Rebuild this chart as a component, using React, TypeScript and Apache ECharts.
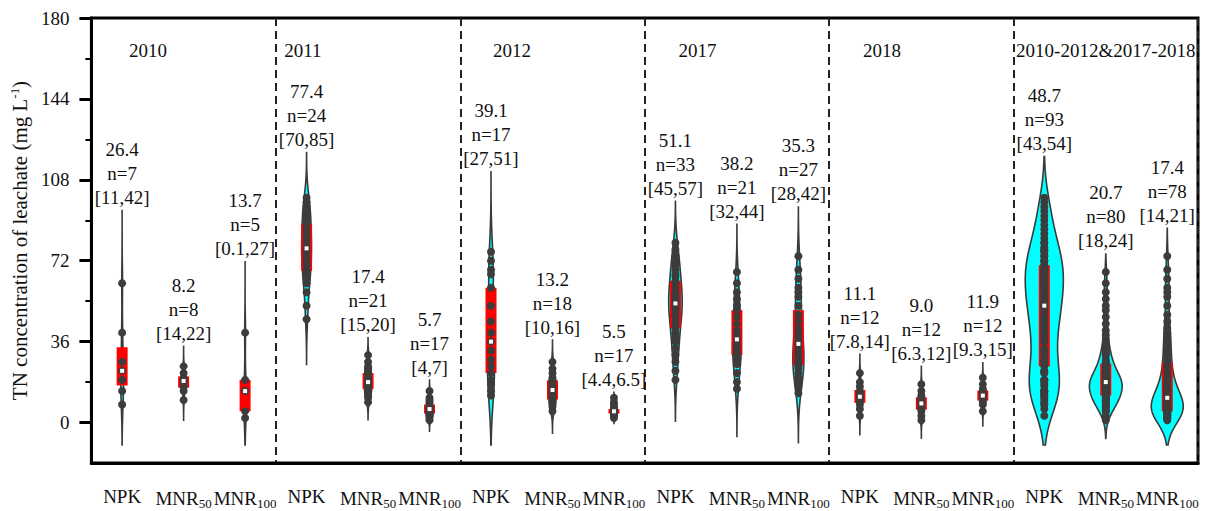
import React, { useEffect, useRef } from 'react';
import * as echarts from 'echarts';

// ---------- data ----------
const groups = ['2010', '2011', '2012', '2017', '2018', '2010-2012&2017-2018'];
const treatments = ['NPK', 'MNR50', 'MNR100'];

const npk2010 = [62, 40, 27, 23, 19, 14, 8];
const mnr50_2010 = [25, 22, 20, 19, 18, 16, 14, 10];
const mnr100_2010 = [40, 19, 14, 5, 2];

const npk2011 = [100, 98, 96, 94, 92, 90, 88, 86, 84, 82, 80, 78, 77, 76, 74, 72, 70, 68, 66, 64, 62, 58, 52, 46];
const mnr50_2011 = [30, 27, 25, 24, 23, 22, 21, 20, 19, 19, 18, 18, 17, 16, 16, 15, 14, 13, 12, 11, 9];
const mnr100_2011 = [14, 11, 10, 9, 8, 7, 7, 6, 6, 5, 5, 4, 4, 3, 3, 2, 1];

const npk2012 = [76, 72, 68, 66, 60, 52, 45, 40, 36, 32, 28, 25, 22, 19, 17, 14, 12];
const mnr50_2012 = [27, 24, 22, 20, 19, 18, 17, 16, 15, 14, 13, 12, 11, 10, 9, 8, 7, 5];
const mnr100_2012 = [11, 9, 8, 7, 6, 6, 6, 5, 5, 5, 5, 4, 4, 4, 3, 3, 2];

const npk2017 = [80, 77, 74, 72, 70, 68, 66, 65, 63, 62, 60, 58, 57, 56, 55, 54, 53, 52, 51, 50, 48, 47, 45, 43, 42, 40, 38, 36, 33, 30, 27, 23, 19];
const mnr50_2017 = [67, 62, 58, 55, 52, 50, 47, 44, 41, 39, 37, 35, 33, 32, 31, 30, 28, 26, 22, 18, 15];
const mnr100_2017 = [74, 68, 64, 60, 58, 56, 52, 48, 45, 42, 40, 38, 36, 35, 33, 31, 30, 28, 27, 26, 25, 24, 22, 20, 18, 16, 13];

const npk2018 = [22, 18, 16, 14, 13, 12, 11, 10, 9, 8, 6, 3];
const mnr50_2018 = [17, 14, 12, 11, 10, 9, 8, 7, 6, 5, 3, 1];
const mnr100_2018 = [20, 17, 15, 14, 13, 12, 12, 11, 10, 9, 8, 5];

const npkAll = [...npk2010, ...npk2011, ...npk2012, ...npk2017, ...npk2018];
const mnr50All = [...mnr50_2010, ...mnr50_2011, ...mnr50_2012, ...mnr50_2017, ...mnr50_2018];
const mnr100All = [...mnr100_2010, ...mnr100_2011, ...mnr100_2012, ...mnr100_2017, ...mnr100_2018];

const samples = [
  npk2010, mnr50_2010, mnr100_2010,
  npk2011, mnr50_2011, mnr100_2011,
  npk2012, mnr50_2012, mnr100_2012,
  npk2017, mnr50_2017, mnr100_2017,
  npk2018, mnr50_2018, mnr100_2018,
  npkAll, mnr50All, mnr100All,
];

const meanLabels = ['26.4', '8.2', '13.7', '77.4', '17.4', '5.7', '39.1', '13.2', '5.5', '51.1', '38.2', '35.3', '11.1', '9.0', '11.9', '48.7', '20.7', '17.4'];
const nLabels = [7, 8, 5, 24, 21, 17, 17, 18, 17, 33, 21, 27, 12, 12, 12, 93, 80, 78];
const ciLabels = ['[11,42]', '[14,22]', '[0.1,27]', '[70,85]', '[15,20]', '[4,7]', '[27,51]', '[10,16]', '[4.4,6.5]', '[45,57]', '[32,44]', '[28,42]', '[7.8,14]', '[6.3,12]', '[9.3,15]', '[43,54]', '[18,24]', '[14,21]'];

const yMin = -18;
const yMax = 180;
const yTicks = [0, 36, 72, 108, 144, 180];
const yMinorTicks = [18, 54, 90, 126, 162];
const groupLabelValue = 165.5;
const violinFloor = -10;

// ---------- layout constants ----------
const groupLabelOffset = [0.42, -0.06, 0.34, 0.36, 0.36, 1.0];
const FONT = "'Liberation Serif', 'Times New Roman', serif";
const pxPerCount = 0.205; // peak half-width per observation

// ---------- stats ----------
function quantile(sorted: number[], p: number) {
  const pos = (sorted.length - 1) * p;
  const lo = Math.floor(pos);
  const hi = Math.ceil(pos);
  return sorted[lo] + (sorted[hi] - sorted[lo]) * (pos - lo);
}

function computeStats(arr: number[]) {
  const n = arr.length;
  const sorted = [...arr].sort((a, b) => a - b);
  const mean = arr.reduce((s, v) => s + v, 0) / n;
  const sd = Math.sqrt(arr.reduce((s, v) => s + (v - mean) * (v - mean), 0) / (n - 1));
  const q1 = quantile(sorted, 0.25);
  const q3 = quantile(sorted, 0.75);
  const med = quantile(sorted, 0.5);
  const iqr = q3 - q1;
  const spread = iqr > 0 ? Math.min(sd, iqr / 1.34) : sd;
  const hShape = 0.9 * spread * Math.pow(n, -0.2);
  const hTail = 2.25 * spread * Math.pow(n, -0.5);
  const lo = Math.max(sorted[0] - 3 * hTail, violinFloor);
  const hi = sorted[n - 1] + 3 * hTail;
  const steps = 160;
  const raw: [number, number][] = [];
  let dMax = 0;
  for (let k = 0; k <= steps; k++) {
    const v = lo + ((hi - lo) * k) / steps;
    let d = 0;
    for (const x of arr) {
      const u = (v - x) / hShape;
      d += Math.exp(-0.5 * u * u);
    }
    raw.push([v, d]);
    if (d > dMax) dMax = d;
  }
  const profile = raw.map(([v, d]) => [v, (pxPerCount * n * d) / dMax] as [number, number]);
  return { q1, q3, med, lo, hi, profile };
}

const stats = samples.map(computeStats);

const categories: string[] = [];
groups.forEach((g) => treatments.forEach((t) => categories.push(t + '|' + g)));

export default function App() {
  const ref = useRef<HTMLDivElement>(null);

  useEffect(() => {
    if (!ref.current) return;
    const chart = echarts.init(ref.current, undefined, { renderer: 'svg' });

    const renderItem = (params: any, api: any) => {
      const i = params.dataIndex;
      const st = stats[i];
      const data = samples[i];
      const cx = api.coord([i, 0])[0];
      const yOf = (v: number) => api.coord([i, v])[1];
      const left: number[][] = [];
      const right: number[][] = [];
      for (const [v, w] of st.profile) {
        left.push([cx - w, yOf(v)]);
        right.push([cx + w, yOf(v)]);
      }
      const poly = left.concat(right.reverse());
      const children: any[] = [
        {
          type: 'polygon',
          shape: { points: poly },
          style: { fill: '#00FFFF', stroke: '#3a3a3a', lineWidth: 1.6 },
        },
        {
          type: 'rect',
          shape: { x: cx - 5.5, y: yOf(st.q3), width: 11, height: yOf(st.q1) - yOf(st.q3) },
          style: { fill: '#FF0000' },
        },
      ];
      data.forEach((v) => {
        children.push({
          type: 'circle',
          shape: { cx, cy: yOf(v), r: 4 },
          style: { fill: '#3c3c3c' },
        });
      });
      children.push({
        type: 'rect',
        shape: { x: cx - 2, y: yOf(st.med) - 2, width: 4, height: 4 },
        style: { fill: '#FFFFFF' },
      });
      children.push({
        type: 'text',
        style: {
          text: `${meanLabels[i]}\nn=${nLabels[i]}\n${ciLabels[i]}`,
          x: cx,
          y: yOf(st.hi) - 1,
          align: 'center',
          verticalAlign: 'bottom',
          fontSize: 19,
          lineHeight: 24,
          fontFamily: FONT,
          fill: '#111',
        },
      });
      if (i % 3 === 0) {
        const g = i / 3;
        const x0 = api.coord([i, 0])[0];
        const x1 = api.coord([i + 1, 0])[0];
        children.push({
          type: 'text',
          style: {
            text: groups[g],
            x: x0 + groupLabelOffset[g] * (x1 - x0),
            y: yOf(groupLabelValue),
            align: 'center',
            verticalAlign: 'middle',
            fontSize: 19,
            fontFamily: FONT,
            fill: '#111',
          },
        });
      }
      return { type: 'group', children };
    };

    chart.setOption({
      animation: false,
      grid: {
        left: 91,
        right: 9,
        top: 18,
        bottom: 48,
        show: true,
        borderColor: '#000',
        borderWidth: 3,
      },
      xAxis: {
        type: 'category',
        data: categories,
        boundaryGap: true,
        axisLine: { onZero: false, lineStyle: { color: '#000', width: 3 } },
        axisTick: { alignWithLabel: true, interval: 0, length: 12, lineStyle: { color: '#000', width: 3 } },
        axisLabel: {
          interval: 0,
          margin: 24,
          color: '#111',
          fontSize: 19,
          fontFamily: FONT,
          formatter: (val: string) => {
            const t = val.split('|')[0];
            if (t === 'NPK') return '{m|NPK}';
            if (t === 'MNR50') return '{m|MNR}{s|50}';
            return '{m|MNR}{s|100}';
          },
          rich: {
            m: { fontSize: 19, fontFamily: FONT, color: '#111' },
            s: { fontSize: 13, fontFamily: FONT, color: '#111', verticalAlign: 'bottom', padding: [10, 0, 0, 0] },
          },
        },
        splitLine: {
          show: true,
          interval: (idx: number) => idx % 3 === 0 && idx > 0,
          lineStyle: { color: '#222', width: 2, type: [8, 5] },
        },
      },
      yAxis: [
        {
          type: 'value',
          min: yMin,
          max: yMax,
          position: 'left',
          name: '{a|TN concentration of leachate (mg L}{b|-1}{a|)}',
          nameLocation: 'middle',
          nameGap: 55,
          nameTextStyle: {
            fontSize: 21,
            fontFamily: FONT,
            color: '#111',
            rich: {
              a: { fontSize: 21, fontFamily: FONT, color: '#111' },
              b: { fontSize: 13, fontFamily: FONT, color: '#111', verticalAlign: 'top', padding: [0, 0, 10, 0] },
            },
          },
          axisLine: { show: true, onZero: false, lineStyle: { color: '#000', width: 3 } },
          axisTick: { show: true, customValues: yTicks, length: 12, lineStyle: { color: '#000', width: 3 } },
          axisLabel: { customValues: yTicks, margin: 22, fontSize: 19, fontFamily: FONT, color: '#111' },
          splitLine: { show: false },
        },
        {
          type: 'value',
          min: yMin,
          max: yMax,
          position: 'left',
          axisLine: { show: false },
          axisTick: { show: true, customValues: yMinorTicks, length: 6, lineStyle: { color: '#000', width: 2 } },
          axisLabel: { show: false },
          splitLine: { show: false },
        },
      ],
      series: [
        {
          type: 'custom',
          xAxisIndex: 0,
          yAxisIndex: 0,
          renderItem,
          data: samples.map((_, i) => [i, 0]),
          clip: false,
        },
      ],
    });

    return () => chart.dispose();
  }, []);

  return (
    <div
      ref={ref}
      style={{ position: 'fixed', left: 0, top: 0, width: 1207, height: 511, background: '#fff' }}
    />
  );
}
